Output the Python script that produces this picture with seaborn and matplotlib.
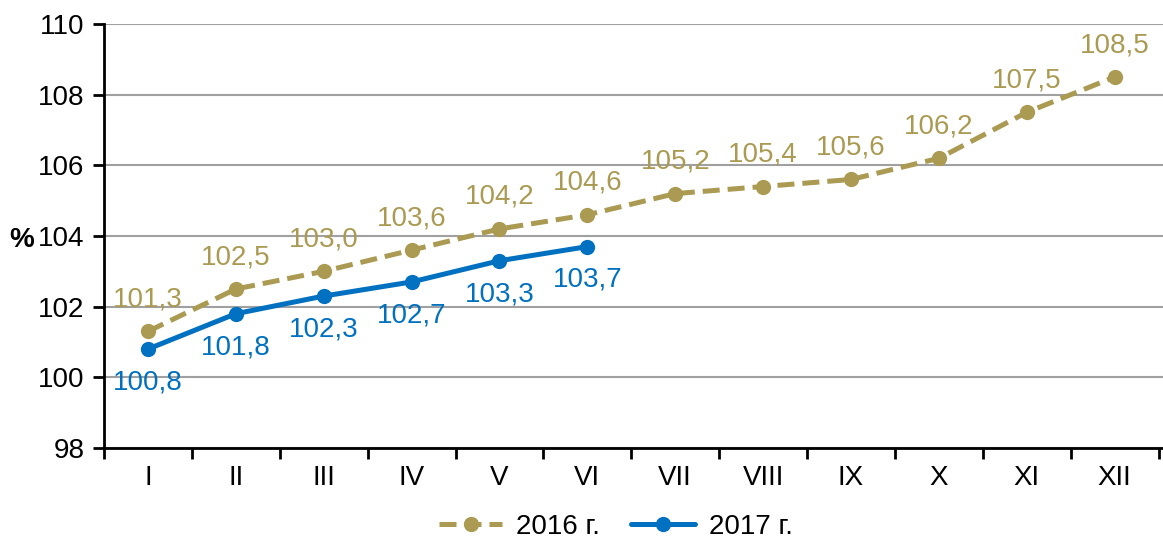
import matplotlib
matplotlib.use("Agg")
import matplotlib.pyplot as plt
import seaborn as sns
import pandas as pd
import numpy as np

months = ["I", "II", "III", "IV", "V", "VI", "VII", "VIII", "IX", "X", "XI", "XII"]
values_2016 = [101.3, 102.5, 103.0, 103.6, 104.2, 104.6, 105.2, 105.4, 105.6, 106.2, 107.5, 108.5]
values_2017 = [100.8, 101.8, 102.3, 102.7, 103.3, 103.7]
y_ticks = [98, 100, 102, 104, 106, 108, 110]

gold = "#AA9A52"
blue = "#0070C0"

sns.set_style("white")
plt.rcParams['font.family'] = ['Liberation Sans', 'DejaVu Sans']
plt.rcParams['font.size'] = 20
plt.rcParams['text.color'] = 'black'
plt.rcParams['xtick.color'] = 'black'
plt.rcParams['ytick.color'] = 'black'

df16 = pd.DataFrame({"pos": np.arange(len(values_2016)), "value": values_2016})
df17 = pd.DataFrame({"pos": np.arange(len(values_2017)), "value": values_2017})

fig = plt.figure(figsize=(11.63, 5.44), dpi=100)
ax = fig.add_axes([104 / 1163, 96 / 544, 1 - 104 / 1163, 424 / 544])

sns.lineplot(data=df16, x="pos", y="value", ax=ax, color=gold, linewidth=3.6,
             marker="o", markersize=11, markeredgewidth=0, label="2016 г.",
             linestyle=(0, (3.4, 1.6)))
sns.lineplot(data=df17, x="pos", y="value", ax=ax, color=blue, linewidth=3.6,
             marker="o", markersize=11, markeredgewidth=0, label="2017 г.")

for i, v in enumerate(values_2016):
    ax.annotate(f"{v:.1f}".replace(".", ","), (i, v), xytext=(0, 23),
                textcoords="offset points", ha="center", va="center",
                color=gold, fontsize=20)
for i, v in enumerate(values_2017):
    ax.annotate(f"{v:.1f}".replace(".", ","), (i, v), xytext=(0, -24),
                textcoords="offset points", ha="center", va="center",
                color=blue, fontsize=20)

ax.set_xlim(-0.5, 11.55)
ax.set_ylim(98, 110)
ax.set_yticks(y_ticks)
ax.set_xticks(np.arange(len(months)))
ax.set_xticklabels(months)
ax.set_xticks(np.arange(-0.5, 12, 1), minor=True)
ax.tick_params(axis="x", which="major", bottom=True, length=0, pad=12, labelsize=20)
ax.tick_params(axis="x", which="minor", bottom=True, length=8, width=2, direction="out")
ax.tick_params(axis="y", left=True, length=8, width=2, direction="out", pad=6, labelsize=20)
ax.set_xlabel("")
ax.set_ylabel("")

ax.grid(axis="y", color="#A0A0A0", linewidth=1.5)
ax.set_axisbelow(True)
for side in ["top", "right"]:
    ax.spines[side].set_visible(False)
for side in ["left", "bottom"]:
    ax.spines[side].set_color("black")
    ax.spines[side].set_linewidth(2)

fig.text(22 / 1163, 1 - 240 / 544, "%", ha="center", va="center", fontweight="bold", fontsize=20)

ax.legend(loc="center", bbox_to_anchor=(0.483, -0.186), ncol=2, frameon=False,
          fontsize=20, handlelength=2.3, columnspacing=1.1, handletextpad=0.5)

fig.savefig("out.png", dpi=100)
